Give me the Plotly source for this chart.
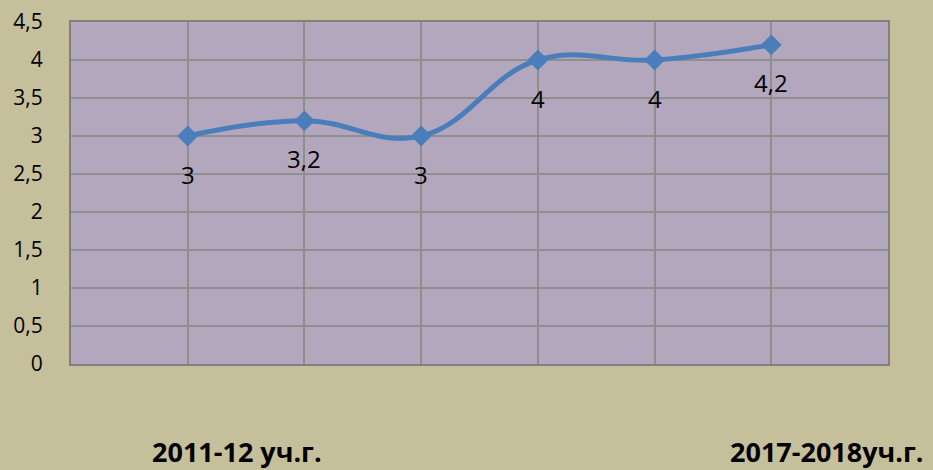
import plotly.graph_objects as go

# data
positions = [1, 2, 3, 4, 5, 6]
values = [3, 3.2, 3, 4, 4, 4.2]
value_labels = ["3", "3,2", "3", "4", "4", "4,2"]
period_labels = ["2011-12 уч.г.", "2017-2018уч.г."]
period_label_x = [0.203, 0.925]  # paper coordinates
y_ticks = [0, 0.5, 1, 1.5, 2, 2.5, 3, 3.5, 4, 4.5]

BG = "#C5BF9B"
PLOT_BG = "#B3A7BE"
GRID = "#8E8E8E"
LINE = "#4A7EBB"
FONT = "Open Sans"

fig = go.Figure()
fig.add_trace(go.Scatter(
    x=positions, y=values, mode="lines+markers",
    line=dict(color=LINE, width=5, shape="spline", smoothing=1.2),
    marker=dict(symbol="diamond", size=16, color=LINE),
    hoverinfo="skip", showlegend=False,
))

for xv, yv, t in zip(positions, values, value_labels):
    fig.add_annotation(x=xv, y=yv, text=t, showarrow=False, yshift=-38,
                       xanchor="center", yanchor="middle",
                       font=dict(family=FONT, size=24, color="#000000"))

for xp, t in zip(period_label_x, period_labels):
    fig.add_annotation(x=xp, y=0, xref="paper", yref="paper", text="<b>" + t + "</b>",
                       showarrow=False, yshift=-87, xanchor="center", yanchor="middle",
                       font=dict(family=FONT, size=27, color="#000000"))

fig.update_layout(
    width=933, height=470,
    margin=dict(l=71, r=45, t=22, b=106),
    paper_bgcolor=BG, plot_bgcolor=PLOT_BG,
    separators=", ",
    font=dict(family=FONT, size=21, color="#000000"),
    xaxis=dict(range=[0, 7], tick0=0, dtick=1, showticklabels=False,
               showgrid=True, gridcolor=GRID, gridwidth=2, zeroline=False,
               showline=True, linecolor="#808080", linewidth=2, mirror=True,
               fixedrange=True, automargin=False),
    yaxis=dict(range=[0, 4.5], tickvals=y_ticks, showgrid=True, gridcolor=GRID,
               gridwidth=2, zeroline=False, showline=True, linecolor="#808080",
               linewidth=2, mirror=True, ticks="", ticklabelstandoff=22,
               tickfont=dict(family=FONT, size=21, color="#000000"),
               fixedrange=True, automargin=False),
)

fig.write_html(
    "out.html",
    config={"displayModeBar": False},
    post_script="document.body.style.margin='0';document.body.style.padding='0';"
                "document.documentElement.style.overflow='hidden';",
)
